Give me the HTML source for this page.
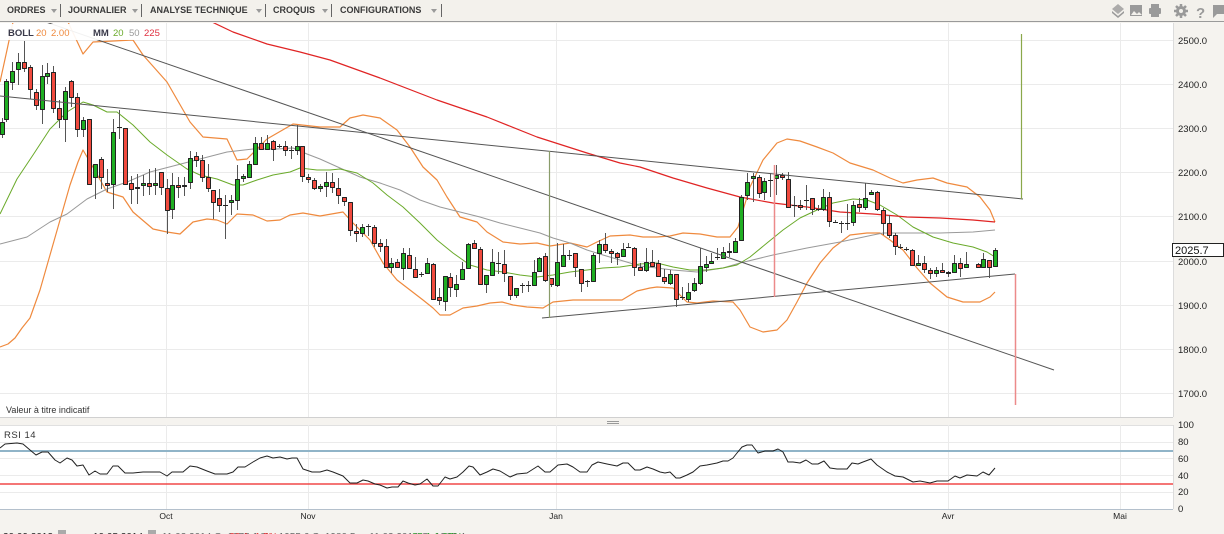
<!DOCTYPE html>
<html><head><meta charset="utf-8">
<style>
html,body{margin:0;padding:0}
body{width:1224px;height:534px;overflow:hidden;background:#f5f3ef;position:relative;font-family:"Liberation Sans",Arial,sans-serif}
#tb{position:absolute;left:0;top:0;width:1224px;height:21px;background:#f3f1ec;border-bottom:1px solid #9a9a9a}
.ti{position:absolute;top:5px;font-size:9px;font-weight:bold;color:#3a3a3a;white-space:nowrap;line-height:11px}
.ar{position:absolute;top:9px;width:0;height:0;border-left:3px solid transparent;border-right:3px solid transparent;border-top:4px solid #9a9a9a}
.sp{position:absolute;top:4px;width:1px;height:13px;background:#666}
svg{position:absolute;left:0;top:0}
</style></head><body>
<div id="tb">
<span class="ti" style="left:7px">ORDRES</span><span class="ar" style="left:51px"></span><span class="sp" style="left:60px"></span>
<span class="ti" style="left:68px">JOURNALIER</span><span class="ar" style="left:132px"></span><span class="sp" style="left:141px"></span>
<span class="ti" style="left:150px">ANALYSE TECHNIQUE</span><span class="ar" style="left:256px"></span><span class="sp" style="left:265px"></span>
<span class="ti" style="left:273px">CROQUIS</span><span class="ar" style="left:322px"></span><span class="sp" style="left:331px"></span>
<span class="ti" style="left:340px">CONFIGURATIONS</span><span class="ar" style="left:431px"></span><span class="sp" style="left:441px"></span>
</div>
<svg width="1224" height="534" viewBox="0 0 1224 534">
<defs>
<clipPath id="cp"><rect x="0" y="23" width="1173" height="394"/></clipPath>
<clipPath id="cr"><rect x="0" y="425" width="1173" height="84"/></clipPath>
</defs>
<!-- toolbar icons -->
<g fill="#9a9a9a">
<path d="M1118 4l6 5-6 5-6-5z" opacity=".8"/><path d="M1112 11l6 5 6-5v2l-6 5-6-5z"/>
<rect x="1130" y="5" width="12" height="11"/><path d="M1131 15l3-4 3 3 2-2 3 3z" fill="#f3f1ec"/>
<rect x="1151" y="4" width="8" height="4"/><rect x="1149" y="8" width="12" height="6" rx="1"/><rect x="1151" y="12" width="8" height="5"/>
<circle cx="1181" cy="11" r="5"/><circle cx="1181" cy="11" r="2" fill="#f3f1ec"/>
<path d="M1181 4v14M1174 11h14M1176 6l10 10M1186 6l-10 10" stroke="#9a9a9a" stroke-width="2.5"/>
<circle cx="1181" cy="11" r="2" fill="#f3f1ec"/>
<path d="M1213 5h11v9h-7l-4 4z"/>
</g>
<text x="1196" y="18" font-size="15" font-weight="bold" fill="#9a9a9a">?</text>

<!-- main plot -->
<rect x="0" y="23" width="1173" height="394" fill="#fff"/>
<g stroke="#ebebeb" stroke-width="1">
<path d="M0 40.5H1173M0 84.5H1173M0 128.5H1173M0 172.5H1173M0 216.5H1173M0 261.5H1173M0 305.5H1173M0 349.5H1173M0 393.5H1173"/>
<path d="M166.5 23V417M308.5 23V417M556.5 23V417M948.5 23V417M1120.5 23V417"/>
</g>
<line x1="1173.5" y1="23" x2="1173.5" y2="417" stroke="#dcdcdc"/>
<line x1="0" y1="417.5" x2="1173" y2="417.5" stroke="#d0d0d0"/>

<g clip-path="url(#cp)" fill="none" stroke-linejoin="round">
<polyline stroke="#ef8a3e" stroke-width="1.2" points="0,82 7,50 13,22 25,0 50,-10 62,5 68,22 83,54 93,42 133,40 143,55 167,82 190,122 203,137 227,139 237,160 247,159 267,139 293,124 320,127 340,127 350,118 363,115 380,118 397,130 410,147 423,167 437,180 447,197 460,217 477,222 487,232 503,242 520,244 537,243 550,246 570,243 587,247 597,242 610,236 630,235 643,237 657,237 670,236 683,233 700,234 717,237 730,237 738,227 750,187 763,160 777,143 787,139 800,141 817,147 833,153 850,163 873,170 890,178 903,183 917,180 933,178 947,183 967,187 980,197 990,210 995,222"/>
<polyline stroke="#ef8a3e" stroke-width="1.2" points="0,347 8,344 15,338 22,328 30,318 40,290 50,255 60,220 70,185 78,162 83,150 90,162 107,192 123,197 133,212 153,229 167,232 180,234 193,222 207,219 217,220 227,224 237,214 253,215 267,221 280,220 290,215 303,213 320,216 343,212 353,223 370,240 383,263 397,280 410,290 423,300 433,308 440,315 450,315 463,308 477,306 490,303 502,302 513,305 527,307 543,308 553,302 573,300 603,300 622,300 637,291 650,288 657,287 673,288 687,302 697,303 713,301 733,302 740,310 750,327 763,332 777,330 787,320 797,302 807,283 820,263 833,248 850,235 867,233 880,233 890,240 903,250 917,268 930,283 947,297 963,302 980,302 990,297 995,292"/>
<polyline stroke="#999" stroke-width="1" points="0,244 27,237 50,222 67,214 87,199 107,189 127,182 150,172 177,165 200,159 227,152 253,149 277,149 293,148 307,154 320,159 340,168 360,177 380,183 400,190 420,200 440,207 460,212 480,217 500,223 520,228 540,233 553,238 570,243 587,250 603,255 620,260 640,266 673,270 697,272 723,268 740,263 773,255 807,248 840,242 873,235 883,233 907,233 940,233 973,232 995,230"/>
<polyline stroke="#6aaa2a" stroke-width="1" points="0,214 17,179 33,155 50,129 67,112 83,102 93,105 107,112 117,112 133,125 150,142 167,155 187,169 200,175 217,179 233,185 243,185 257,180 273,175 290,172 300,168 317,170 330,170 340,169 357,173 373,183 387,195 403,207 420,223 437,240 453,253 470,265 487,270 503,272 520,275 537,277 553,275 570,272 587,270 603,268 620,267 640,264 657,263 673,267 690,270 707,270 723,268 737,265 750,257 767,243 783,230 800,218 817,210 833,203 853,199 867,200 880,205 897,215 913,227 933,237 953,243 973,247 987,252 995,257"/>
<polyline stroke="#e02424" stroke-width="1.2" points="200,18 212,22 233,32 267,44 300,52 330,60 380,78 437,100 487,117 537,137 587,153 620,163 640,167 673,178 707,188 740,197 773,203 807,207 840,212 873,214 907,217 940,218 973,220 995,222"/>
<g id="cdl"></g>
<g stroke="#555" stroke-width="1">
<line x1="43" y1="21" x2="1054" y2="370"/>
<line x1="0" y1="96" x2="1023" y2="199"/>
<line x1="542" y1="318" x2="1015" y2="274"/>
</g>
<line x1="549.5" y1="151" x2="549.5" y2="318" stroke="#8a9c6a" stroke-width="1.2"/>
<line x1="774.5" y1="165" x2="774.5" y2="297" stroke="#ec8a8a" stroke-width="1.5"/>
<line x1="1021.5" y1="34" x2="1021.5" y2="199" stroke="#8aa84a" stroke-width="1.2"/>
<line x1="1015.5" y1="274" x2="1015.5" y2="405" stroke="#ec8a8a" stroke-width="1.5"/>
</g>

<!-- legend -->
<rect x="3" y="24" width="160" height="16" fill="#fff" opacity=".92"/>
<g font-size="9.5" font-weight="bold">
<text x="8" y="36" fill="#3a3a4a">BOLL</text>
<text x="36" y="36" fill="#ef8a3e" font-weight="normal">20</text>
<text x="51" y="36" fill="#ef8a3e" font-weight="normal">2.00</text>
<text x="93" y="36" fill="#3a3a4a">MM</text>
<text x="113" y="36" fill="#6aaa2a" font-weight="normal">20</text>
<text x="129" y="36" fill="#999" font-weight="normal">50</text>
<text x="144" y="36" fill="#e03040" font-weight="normal">225</text>
</g>
<text x="6" y="413" font-size="9" fill="#333">Valeur à titre indicatif</text>

<!-- y axis -->
<g font-size="9.5" fill="#222">
<text x="1178" y="44">2500.0</text>
<text x="1178" y="88">2400.0</text>
<text x="1178" y="132">2300.0</text>
<text x="1178" y="176">2200.0</text>
<text x="1178" y="220">2100.0</text>
<text x="1178" y="265">2000.0</text>
<text x="1178" y="309">1900.0</text>
<text x="1178" y="353">1800.0</text>
<text x="1178" y="397">1700.0</text>
</g>
<rect x="1172.5" y="243.5" width="51" height="13" fill="#fff" stroke="#222"/>
<text x="1175" y="254" font-size="11" fill="#111">2025.7</text>

<!-- splitter -->
<path d="M607 421.5h12M607 423.5h12" stroke="#999"/>

<!-- RSI -->
<rect x="0" y="425" width="1173" height="84" fill="#fff"/>
<line x1="0" y1="425.5" x2="1173" y2="425.5" stroke="#e0e0e0"/>
<g stroke="#ebebeb">
<path d="M0 442.5H1173M0 458.5H1173M0 475.5H1173M0 492.5H1173"/>
<path d="M166.5 425V509M308.5 425V509M556.5 425V509M948.5 425V509M1120.5 425V509"/>
</g>
<line x1="1173.5" y1="425" x2="1173.5" y2="509" stroke="#dcdcdc"/>
<line x1="0" y1="451" x2="1173" y2="451" stroke="#90b4c8" stroke-width="2"/>
<line x1="0" y1="484" x2="1173" y2="484" stroke="#f04848" stroke-width="1.5"/>
<line x1="0" y1="509.5" x2="1173" y2="509.5" stroke="#b4c0cc"/>
<polyline clip-path="url(#cr)" fill="none" stroke="#222" stroke-width="1" stroke-linejoin="round" points="0,448 5,444 17,443 23,444 30,450 36,455 42,452 48,452 55,460 60,463 67,458 72,460 77,466 83,465 89,475 95,471 100,474 107,474 113,466 118,466 125,473 133,473 143,472 153,472 160,472 167,476 172,472 183,472 190,466 197,467 207,471 215,474 227,474 233,472 238,467 245,467 253,462 260,458 267,456 273,458 280,457 287,459 292,458 297,458 303,469 312,472 320,472 327,470 333,472 343,476 350,483 357,483 363,480 368,481 375,484 380,485 387,488 392,487 398,487 403,481 408,483 415,485 420,484 427,479 433,486 438,486 445,477 450,479 457,477 463,472 469,466 473,467 480,475 487,472 493,469 500,471 510,477 517,474 527,473 538,466 545,472 550,472 558,465 567,464 573,467 580,472 587,472 592,465 598,462 607,464 617,466 623,463 628,463 635,470 640,470 647,467 653,469 660,472 665,473 670,472 676,478 680,478 687,475 693,472 700,466 707,465 717,463 723,461 728,461 733,458 737,453 742,447 747,445 752,445 758,453 765,451 773,451 778,449 783,452 788,462 793,462 800,463 806,460 812,464 818,464 824,461 830,468 837,469 847,469 852,463 858,464 863,462 871,459 877,465 887,472 895,476 903,477 913,482 920,481 930,483 937,481 948,481 955,476 960,478 967,475 977,476 983,472 989,475 995,468"/>
<rect x="0" y="426" width="39" height="15" fill="#fff" opacity=".9"/>
<text x="4" y="438" font-size="9.5" fill="#333" letter-spacing=".5">RSI 14</text>
<g font-size="9.5" fill="#222">
<text x="1178" y="428">100</text>
<text x="1178" y="445">80</text>
<text x="1178" y="462">60</text>
<text x="1178" y="479">40</text>
<text x="1178" y="495">20</text>
<text x="1178" y="512">0</text>
</g>
<g font-size="8.5" fill="#222" text-anchor="middle">
<text x="166" y="519">Oct</text>
<text x="308" y="519">Nov</text>
<text x="556" y="519">Jan</text>
<text x="948" y="519">Avr</text>
<text x="1120" y="519">Mai</text>
</g>
<!-- status line (cut off) -->
<g font-size="10" fill="#222">
<text x="3" y="540">30.09.2013</text>
<rect x="58" y="530" width="8" height="6" fill="#aaa"/>
<text x="93" y="540">10.05.2014</text>
<rect x="148" y="530" width="8" height="6" fill="#aaa"/>
<text x="162" y="540" fill="#666">11.03.2014 O: 1975.1 H: </text>
<text x="226" y="540" fill="#e03030">-30.1  -1.5%</text>
<text x="262" y="540" fill="#666">  Lo: 1955.6 C: 1980.5 ... 11.03.2014 O: 1966.4</text>
<text x="406" y="540" fill="#2a9a2a">+25.1 1.27%</text>
</g>
</svg>
<script>
(function(){
var D=[[2,122,134,118,138,'g'],[6,81,119,79,122,'g'],[12,71,82,62,90,'g'],[18,62,69,53,85,'g'],[24,62,68,41,72,'r'],[30,67,89,65,99,'r'],[36,92,105,89,110,'r'],[42,76,109,65,124,'g'],[47,73,76,63,84,'g'],[53,72,108,66,113,'r'],[59,108,119,100,128,'r'],[65,91,119,87,142,'g'],[71,81,97,80,107,'r'],[77,97,129,93,137,'r'],[83,120,129,117,137,'g'],[89,119,184,119,184,'r'],[95,164,177,164,199,'g'],[101,159,177,157,189,'r'],[107,183,185,169,192,'r'],[113,132,184,119,209,'g'],[119,127,127,110,139,'d'],[125,128,184,128,184,'r'],[131,183,189,176,204,'r'],[137,187,188,174,204,'g'],[143,183,185,175,196,'g'],[149,183,186,169,195,'r'],[155,183,185,168,195,'g'],[161,172,187,172,195,'r'],[167,188,210,179,234,'r'],[172,185,209,173,219,'g'],[178,185,187,177,198,'r'],[184,185,186,177,196,'g'],[190,158,182,151,189,'g'],[196,156,160,152,167,'r'],[202,160,177,155,182,'r'],[208,177,188,164,192,'r'],[213,190,202,190,219,'r'],[219,198,205,189,212,'r'],[225,205,205,195,239,'d'],[231,200,202,195,215,'g'],[237,179,200,165,210,'g'],[243,176,178,174,182,'g'],[249,164,177,161,178,'g'],[255,143,164,137,165,'g'],[261,143,149,137,150,'r'],[267,143,149,135,150,'g'],[273,141,149,140,161,'r'],[279,146,146,144,148,'d'],[285,146,150,141,156,'r'],[291,150,150,146,159,'d'],[297,146,150,125,155,'g'],[302,146,176,146,182,'r'],[308,177,179,174,183,'r'],[314,180,188,178,190,'r'],[320,186,188,184,192,'g'],[326,182,186,172,197,'g'],[332,182,187,173,193,'r'],[338,188,195,178,204,'r'],[344,197,201,197,206,'r'],[350,202,230,202,236,'r'],[356,231,233,224,242,'r'],[362,227,233,224,237,'g'],[368,226,226,224,236,'d'],[374,227,243,225,247,'r'],[380,243,246,239,252,'r'],[386,246,267,239,268,'r'],[391,263,267,258,273,'g'],[397,262,267,259,268,'r'],[403,253,268,248,280,'g'],[409,255,268,248,269,'r'],[415,269,277,257,277,'r'],[421,274,274,272,277,'d'],[427,263,273,258,274,'g'],[433,264,299,263,300,'r'],[439,297,300,288,305,'r'],[445,276,301,276,311,'g'],[450,277,287,273,297,'r'],[456,284,289,275,297,'g'],[462,269,279,262,280,'g'],[468,244,268,243,268,'g'],[474,243,248,240,249,'r'],[480,249,284,247,285,'r'],[486,275,284,275,293,'g'],[492,262,275,249,276,'g'],[498,263,263,252,274,'d'],[504,264,273,250,282,'r'],[510,276,295,276,300,'r'],[516,288,295,288,298,'g'],[522,285,285,283,293,'d'],[528,285,285,281,292,'d'],[534,272,285,260,286,'g'],[539,258,271,257,272,'g'],[545,256,280,253,282,'r'],[551,278,284,278,287,'r'],[557,262,285,243,287,'g'],[563,255,266,244,267,'g'],[569,255,255,250,260,'d'],[575,253,267,253,277,'r'],[581,269,283,269,292,'r'],[587,281,281,280,287,'d'],[593,255,281,253,282,'g'],[599,244,253,240,263,'g'],[605,244,250,233,253,'r'],[611,251,253,249,263,'r'],[617,253,257,252,265,'r'],[623,249,256,243,257,'g'],[628,247,247,243,248,'d'],[634,248,267,247,276,'r'],[640,267,270,263,271,'r'],[646,262,270,248,272,'g'],[652,262,266,250,267,'r'],[658,263,276,260,277,'r'],[664,277,281,269,284,'r'],[670,274,283,270,285,'g'],[676,274,299,274,307,'r'],[682,297,297,287,300,'d'],[688,292,299,283,302,'g'],[694,283,290,278,292,'g'],[700,266,283,248,285,'g'],[706,264,267,256,272,'g'],[711,261,263,253,264,'g'],[717,257,257,248,260,'d'],[723,252,258,247,259,'g'],[729,251,252,243,257,'g'],[735,241,252,238,253,'g'],[741,197,240,195,241,'g'],[747,182,195,173,200,'g'],[753,176,178,173,202,'g'],[759,177,193,175,198,'r'],[764,181,192,178,200,'g'],[770,180,180,173,197,'d'],[776,175,178,165,195,'g'],[782,175,177,173,180,'r'],[788,179,207,172,207,'r'],[794,205,205,196,217,'d'],[800,205,207,200,210,'r'],[806,200,200,185,210,'d'],[812,198,209,198,215,'r'],[818,209,209,205,211,'d'],[823,197,209,189,211,'g'],[829,197,221,192,227,'r'],[835,222,222,220,223,'d'],[841,223,223,221,233,'d'],[847,223,223,204,230,'d'],[853,205,222,201,226,'g'],[859,204,207,198,212,'r'],[865,198,207,183,210,'g'],[871,192,194,190,195,'g'],[877,192,209,191,211,'r'],[883,210,223,208,235,'r'],[889,223,235,215,238,'r'],[895,235,246,233,255,'r'],[900,247,247,244,249,'d'],[906,249,249,247,251,'d'],[912,250,265,249,266,'r'],[918,263,265,255,266,'g'],[924,263,269,256,273,'r'],[930,270,273,268,279,'r'],[936,270,273,267,277,'g'],[942,270,272,263,273,'r'],[948,272,273,271,277,'r'],[954,263,272,255,273,'g'],[960,263,268,258,277,'r'],[966,264,267,252,268,'g'],[978,264,267,263,268,'r'],[983,259,267,253,267,'g'],[989,260,267,260,278,'r'],[995,250,266,248,267,'g']];
var w='',b='';
for(var i=0;i<D.length;i++){var c=D[i],x=c[0]+.5;
w+='M'+x+' '+c[3]+'V'+c[4];
if(c[5]=='d'){b+='<line x1="'+(c[0]-2)+'" y1="'+(c[1]+.5)+'" x2="'+(c[0]+3)+'" y2="'+(c[1]+.5)+'" stroke="#222"/>';}
else{var h=Math.max(c[2]-c[1],1);b+='<rect x="'+(c[0]-1.5)+'" y="'+(c[1]+.5)+'" width="4" height="'+h+'" fill="'+(c[5]=='g'?'#1fae22':'#f04a3e')+'" stroke="#222" stroke-width="1"/>';}
}
document.getElementById('cdl').innerHTML='<path d="'+w+'" stroke="#555" stroke-width="1" fill="none"/>'+b;
})();
</script>
</body></html>
